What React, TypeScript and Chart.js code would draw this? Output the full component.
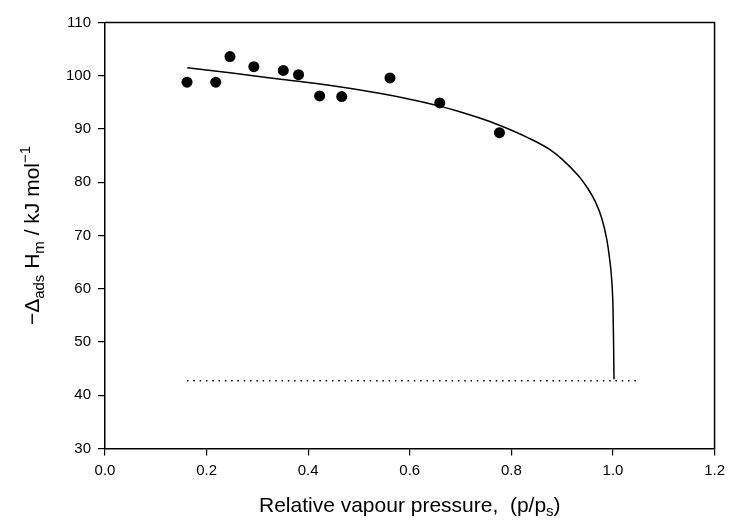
import React, { useEffect, useRef } from "react";
import { Chart, registerables } from "chart.js";

Chart.register(...registerables);

const pointX = [0.1615, 0.218, 0.246, 0.293, 0.351, 0.381, 0.4225, 0.466, 0.561, 0.659, 0.7765];
const pointY = [98.8, 98.8, 103.6, 101.7, 101.0, 100.2, 96.2, 96.1, 99.6, 94.9, 89.3];

const curveX = [0.162, 0.25, 0.35, 0.4415, 0.54, 0.6, 0.659, 0.7, 0.736, 0.7765, 0.834, 0.873, 0.899, 0.932, 0.95, 0.965, 0.978, 0.988, 0.993, 0.9975, 1.0, 1.001, 1.002];
const curveY = [101.5, 100.5, 99.3, 98.2, 96.7, 95.6, 94.3, 93.2, 92.1, 90.7, 88.3, 86.3, 84.4, 81.2, 78.9, 76.4, 73.2, 69.2, 65.9, 61.7, 56.6, 51.0, 43.0];

const refX = [0.1615, 1.046];
const refY = [42.7, 42.7];

const xTicks = [0, 0.2, 0.4, 0.6, 0.8, 1.0, 1.2];
const yTicks = [30, 40, 50, 60, 70, 80, 90, 100, 110];

const FONT = "'Liberation Sans', Arial, sans-serif";

const framePlugin = {
  id: "frameAndTitles",
  afterDraw(chart: any) {
    const { ctx, chartArea } = chart;
    const { left, right, top, bottom } = chartArea;
    ctx.save();
    ctx.strokeStyle = "#000";
    ctx.lineWidth = 1.5;
    ctx.beginPath();
    ctx.moveTo(left, top);
    ctx.lineTo(right, top);
    ctx.lineTo(right, bottom);
    ctx.stroke();

    ctx.fillStyle = "#000";
    ctx.textBaseline = "alphabetic";
    const big = `21px ${FONT}`;
    const small = `15px ${FONT}`;
    // X title
    const xParts: [string, string, number][] = [
      ["Relative vapour pressure,  (p/p", big, 0],
      ["s", small, 4],
      [")", big, 0],
    ];
    let w = 0;
    for (const [t, f] of xParts) {
      ctx.font = f;
      w += ctx.measureText(t).width;
    }
    let x = (left + right) / 2 - w / 2;
    const yBase = 512;
    for (const [t, f, dy] of xParts) {
      ctx.font = f;
      ctx.fillText(t, x, yBase + dy);
      x += ctx.measureText(t).width;
    }

    // Y title (rotated)
    const yParts: [string, string, number][] = [
      ["\u2212\u0394", big, 0],
      ["ads", small, 5],
      [" H", big, 0],
      ["m", small, 5],
      [" / kJ mol", big, 0],
      ["\u22121", small, -9],
    ];
    let wy = 0;
    for (const [t, f] of yParts) {
      ctx.font = f;
      wy += ctx.measureText(t).width;
    }
    ctx.translate(39, (top + bottom) / 2);
    ctx.rotate(-Math.PI / 2);
    let xx = -wy / 2;
    for (const [t, f, dy] of yParts) {
      ctx.font = f;
      ctx.fillText(t, xx, dy);
      xx += ctx.measureText(t).width;
    }
    ctx.restore();
  },
};

export default function App() {
  const ref = useRef<HTMLCanvasElement | null>(null);
  useEffect(() => {
    if (!ref.current) return;
    const chart = new Chart(ref.current, {
      type: "scatter",
      data: {
        datasets: [
          {
            label: "points",
            data: pointX.map((v, i) => ({ x: v, y: pointY[i] })),
            pointRadius: 5.5,
            pointBackgroundColor: "#000",
            pointBorderWidth: 0,
            showLine: false,
          },
          {
            label: "fit",
            data: curveX.map((v, i) => ({ x: v, y: curveY[i] })),
            showLine: true,
            borderColor: "#000",
            borderWidth: 1.5,
            pointRadius: 0,
            cubicInterpolationMode: "monotone",
          },
          {
            label: "ref",
            data: refX.map((v, i) => ({ x: v, y: refY[i] })),
            showLine: true,
            borderColor: "#000",
            borderWidth: 1.5,
            borderDash: [1.5, 4.8],
            pointRadius: 0,
          },
        ],
      } as any,
      options: {
        animation: false,
        responsive: true,
        maintainAspectRatio: false,
        layout: { padding: { left: 0, right: 14.5, top: 22.5, bottom: 0 } },
        plugins: { legend: { display: false }, tooltip: { enabled: false } },
        scales: {
          x: {
            type: "linear",
            min: 0,
            max: 1.2,
            afterBuildTicks: (s: any) => {
              s.ticks = xTicks.map((v) => ({ value: v }));
            },
            afterFit: (s: any) => {
              s.height = 76.5;
            },
            ticks: {
              callback: (v: any) => Number(v).toFixed(1),
              color: "#000",
              font: { family: FONT, size: 15 },
              padding: 6,
              maxRotation: 0,
            },
            grid: { drawOnChartArea: false, drawTicks: true, tickLength: 7, color: "#000", lineWidth: 1.2 },
            border: { display: true, color: "#000", width: 1.5 },
          },
          y: {
            type: "linear",
            min: 30,
            max: 110,
            afterBuildTicks: (s: any) => {
              s.ticks = yTicks.map((v) => ({ value: v }));
            },
            afterFit: (s: any) => {
              s.width = 105;
            },
            ticks: {
              color: "#000",
              font: { family: FONT, size: 15 },
              padding: 7,
            },
            grid: { drawOnChartArea: false, drawTicks: true, tickLength: 7, color: "#000", lineWidth: 1.2 },
            border: { display: true, color: "#000", width: 1.5 },
          },
        },
      } as any,
      plugins: [framePlugin],
    });
    return () => chart.destroy();
  }, []);
  return (
    <div style={{ position: "fixed", left: 0, top: 0, width: 731, height: 525, background: "#fff" }}>
      <canvas ref={ref} />
    </div>
  );
}
